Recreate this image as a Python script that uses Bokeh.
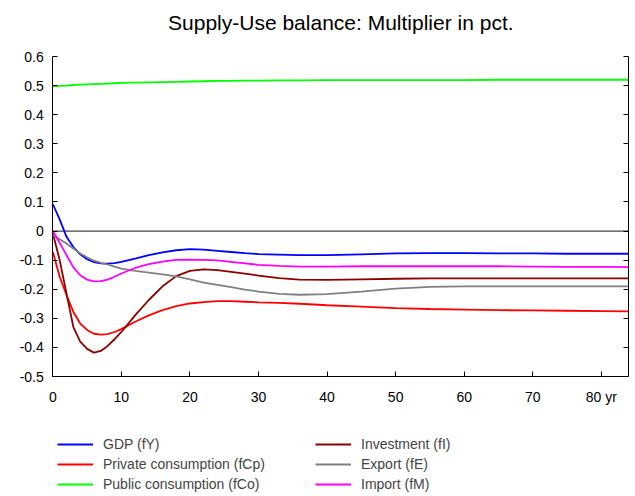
from bokeh.plotting import figure
from bokeh.models import Range1d, FixedTicker, LinearAxis, Legend, LegendItem, Label
from bokeh.embed import file_html
from bokeh.resources import INLINE

title = "Supply-Use balance: Multiplier in pct."

years = [0, 1, 2, 3, 4, 5, 6, 7, 8, 9, 10, 12, 14, 16, 18, 20, 22, 24, 26, 28, 30,
         33, 36, 40, 45, 50, 55, 60, 65, 70, 75, 80, 84]

gdp = [0.093, 0.040, -0.020, -0.055, -0.080, -0.097, -0.107, -0.111, -0.112, -0.110,
       -0.106, -0.095, -0.083, -0.073, -0.066, -0.062, -0.064, -0.068, -0.072, -0.076,
       -0.079, -0.081, -0.083, -0.083, -0.080, -0.077, -0.076, -0.076, -0.077, -0.077,
       -0.078, -0.078, -0.078]

priv_cons = [-0.071, -0.157, -0.220, -0.278, -0.318, -0.340, -0.353, -0.356, -0.354, -0.347,
             -0.337, -0.312, -0.290, -0.272, -0.258, -0.249, -0.244, -0.241, -0.241, -0.243,
             -0.245, -0.247, -0.250, -0.255, -0.260, -0.265, -0.268, -0.270, -0.272, -0.273,
             -0.274, -0.275, -0.276]

pub_cons = [0.497, 0.499, 0.500, 0.502, 0.503, 0.504, 0.505, 0.506, 0.507, 0.508,
            0.509, 0.510, 0.511, 0.512, 0.513, 0.514, 0.515, 0.516, 0.516, 0.517,
            0.517, 0.518, 0.518, 0.519, 0.519, 0.519, 0.519, 0.519, 0.520, 0.520,
            0.520, 0.520, 0.520]

investment = [-0.007, -0.100, -0.215, -0.330, -0.380, -0.405, -0.418, -0.412, -0.395, -0.372,
              -0.347, -0.290, -0.237, -0.190, -0.155, -0.137, -0.132, -0.134, -0.140, -0.146,
              -0.153, -0.162, -0.167, -0.168, -0.166, -0.164, -0.163, -0.163, -0.163, -0.163,
              -0.163, -0.163, -0.163]

export = [-0.014, -0.028, -0.043, -0.060, -0.077, -0.090, -0.102, -0.109, -0.115, -0.122,
          -0.129, -0.137, -0.143, -0.149, -0.156, -0.166, -0.177, -0.185, -0.193, -0.201,
          -0.208, -0.216, -0.219, -0.217, -0.208, -0.198, -0.192, -0.190, -0.190, -0.190,
          -0.190, -0.190, -0.190]

imports = [0.000, -0.040, -0.083, -0.125, -0.152, -0.167, -0.173, -0.172, -0.167, -0.157,
           -0.146, -0.127, -0.114, -0.105, -0.099, -0.098, -0.099, -0.101, -0.106, -0.111,
           -0.116, -0.120, -0.122, -0.122, -0.121, -0.121, -0.121, -0.121, -0.121, -0.122,
           -0.123, -0.123, -0.124]

series_names = ["GDP (fY)", "Private consumption (fCp)", "Public consumption (fCo)",
                "Investment (fI)", "Export (fE)", "Import (fM)"]
series_values = [gdp, priv_cons, pub_cons, investment, export, imports]
series_colors = ["#0000ff", "#ff0000", "#00ff00", "#8b0000", "#808080", "#ff00ff"]

x_ticks = [0, 10, 20, 30, 40, 50, 60, 70, 80]
x_tick_labels = ["0", "10", "20", "30", "40", "50", "60", "70", "80 yr"]
y_ticks = [-0.5, -0.4, -0.3, -0.2, -0.1, 0, 0.1, 0.2, 0.3, 0.4, 0.5, 0.6]
y_tick_labels = ["-0.5", "-0.4", "-0.3", "-0.2", "-0.1", "0", "0.1", "0.2", "0.3", "0.4", "0.5", "0.6"]

X_MIN, X_MAX = 0, 84
Y_MIN, Y_MAX = -0.5, 0.6

# page layout (pixels): plot area from x=52.3..628.3, y=56..376 on a 635x496 canvas
W, H = 635, 496
AX_L, AX_R, AX_T, AX_B = 52.3, 628.3, 56.0, 376.0
px_x = (AX_R - AX_L) / (X_MAX - X_MIN)
px_y = (AX_B - AX_T) / (Y_MAX - Y_MIN)
view_x = (X_MIN - AX_L / px_x, X_MAX + (W - AX_R) / px_x)
view_y = (Y_MIN - (H - AX_B) / px_y, Y_MAX + AX_T / px_y)

FONT = "Liberation Sans"

p = figure(width=W, height=H, output_backend="svg", toolbar_location=None,
           x_range=Range1d(*view_x), y_range=Range1d(*view_y),
           x_axis_location=None, y_axis_location=None,
           min_border_left=0, min_border_right=0, min_border_top=0, min_border_bottom=0)

p.outline_line_color = None
p.xgrid.visible = False
p.ygrid.visible = False
p.background_fill_color = "white"
p.border_fill_color = "white"

xa = LinearAxis(ticker=FixedTicker(ticks=x_ticks), fixed_location=Y_MIN, bounds=(X_MIN, X_MAX),
                major_label_overrides={t: l for t, l in zip(x_ticks, x_tick_labels)})
ya = LinearAxis(ticker=FixedTicker(ticks=y_ticks), fixed_location=X_MIN, bounds=(Y_MIN, Y_MAX),
                major_label_overrides={t: l for t, l in zip(y_ticks, y_tick_labels)})
ra = LinearAxis(ticker=FixedTicker(ticks=y_ticks), fixed_location=X_MAX, bounds=(Y_MIN, Y_MAX),
                major_label_text_color=None, major_label_standoff=0)
p.add_layout(xa, "below")
p.add_layout(ya, "left")
p.add_layout(ra, "right")

for ax in [xa, ya, ra]:
    ax.axis_line_color = "black"
    ax.axis_line_width = 1
    ax.major_tick_in = 5
    ax.major_tick_out = 0
    ax.major_tick_line_color = "black"
    ax.minor_tick_line_color = None
    ax.major_label_text_font = FONT
    ax.major_label_text_font_size = "14px"
xa.major_label_text_color = "#000000"
ya.major_label_text_color = "#000000"
xa.major_label_standoff = 12
ya.major_label_standoff = 9

# zero reference line across the plotting area
p.line([X_MIN, X_MAX], [0, 0], line_color="#444444", line_width=1.3)

items = []
for name, vals, col in zip(series_names, series_values, series_colors):
    r = p.line(years, vals, line_color=col, line_width=1.8)
    items.append(LegendItem(label=name, renderers=[r]))

leg = Legend(items=items, location=(57, 2), nrows=3, orientation="vertical",
             glyph_width=36, glyph_height=20, label_standoff=10, label_width=212,
             label_height=20, spacing=0, padding=0, margin=0,
             label_text_font=FONT, label_text_font_size="14px",
             border_line_color=None, background_fill_alpha=0)
p.add_layout(leg, "center")

p.add_layout(Label(x=(AX_L + AX_R) / 2, y=H - 22, x_units="screen", y_units="screen",
                   text=title, text_align="center", text_baseline="alphabetic",
                   text_font=FONT, text_font_size="21px", text_color="#000000"))

open("out.html", "w").write(file_html(p, INLINE))
